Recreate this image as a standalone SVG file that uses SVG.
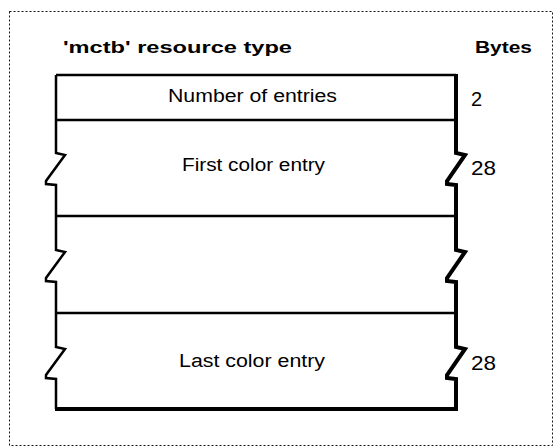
<svg xmlns="http://www.w3.org/2000/svg" width="554" height="447" viewBox="0 0 554 447">
<style>
.frame{fill:none;stroke:#111;stroke-width:1;stroke-dasharray:2 2}
.thin{fill:none;stroke:#000;stroke-width:2.5;stroke-linejoin:miter}
.thick{fill:none;stroke:#000;stroke-width:4;stroke-linejoin:miter}
.lbl{font-family:"Liberation Sans",Arial,sans-serif;font-size:18px;fill:#000}
.hdr{font-family:"Liberation Sans",Arial,sans-serif;font-size:17px;font-weight:bold;fill:#000}
.num{font-family:"Liberation Sans",Arial,sans-serif;font-size:20px;fill:#000}
</style>
<rect class="frame" x="9.5" y="11.5" width="543" height="434"/>
<g id="header">
<text class="hdr" x="63" y="53" textLength="229" lengthAdjust="spacingAndGlyphs">'mctb' resource type</text>
<text class="hdr" x="475" y="53" textLength="57" lengthAdjust="spacingAndGlyphs">Bytes</text>
</g>
<g id="box">
<path class="thin" d="M56,75 H456"/>
<path class="thin" d="M56,75 V153 L65,155 L46,181 L46,184 L56,185 V250 L65,252 L46,278 L46,281 L56,282 V347 L65,349 L46,375 L46,378 L56,379 V409"/>
<path class="thick" d="M456,74 V153 L465,155 L447,181 L447,184 L456,185 V250 L465,252 L447,278 L447,281 L456,282 V347 L465,349 L447,375 L447,378 L456,379 V409 H55"/>
</g>
<g id="row-number">
<path class="thin" d="M56,120 H456"/>
<text class="lbl" x="168" y="102" textLength="169" lengthAdjust="spacingAndGlyphs">Number of entries</text>
<text class="num" x="471" y="106">2</text>
</g>
<g id="row-first">
<path class="thin" d="M56,216 H456"/>
<text class="lbl" x="182" y="171" textLength="143" lengthAdjust="spacingAndGlyphs">First color entry</text>
<text class="num" x="471" y="175" textLength="25" lengthAdjust="spacingAndGlyphs">28</text>
</g>
<g id="row-middle">
<path class="thin" d="M56,313 H456"/>
</g>
<g id="row-last">
<text class="lbl" x="179" y="367" textLength="146" lengthAdjust="spacingAndGlyphs">Last color entry</text>
<text class="num" x="471" y="370" textLength="25" lengthAdjust="spacingAndGlyphs">28</text>
</g>
</svg>
